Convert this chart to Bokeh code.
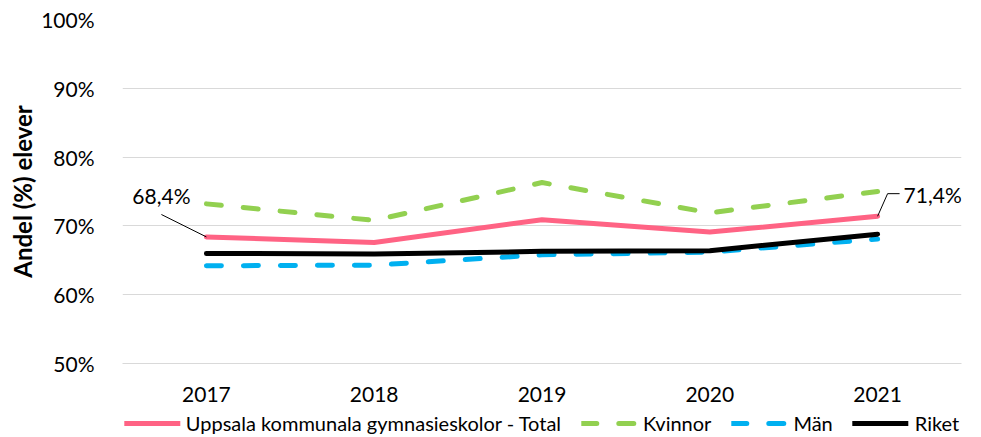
from bokeh.plotting import figure
from bokeh.layouts import column
from bokeh.models import (Range1d, FixedTicker, PrintfTickFormatter, Legend, LegendItem, Label)
from bokeh.embed import file_html
from bokeh.resources import INLINE

years = ["2017", "2018", "2019", "2020", "2021"]
total = [68.4, 67.6, 70.9, 69.1, 71.4]
kvinnor = [73.2, 70.8, 76.3, 71.9, 75.0]
man = [64.2, 64.3, 65.8, 66.2, 68.1]
riket = [66.0, 65.9, 66.3, 66.4, 68.8]
y_ticks = [50, 60, 70, 80, 90, 100]

series_names = ["Uppsala kommunala gymnasieskolor - Total", "Kvinnor", "Män", "Riket"]
series_vals = [total, kvinnor, man, riket]
colors = ["#FF6384", "#92D050", "#00B0F0", "#000000"]
dashes = ["solid", "15 22", "15 22", "solid"]

FONT = "Lato"
x = list(range(len(years)))

W, H = 981, 409
ML, MR, MT, MB = 122, 20, 19, 46
p = figure(width=W, height=H, output_backend="svg", toolbar_location=None,
           x_range=Range1d(-0.5, len(years) - 0.5), y_range=Range1d(50, 100),
           min_border_left=ML, min_border_right=MR, min_border_top=MT, min_border_bottom=MB)
p.outline_line_color = None
p.background_fill_color = "white"

p.xgrid.grid_line_color = None
p.ygrid.grid_line_color = "#d9d9d9"
p.ygrid.grid_line_width = 1
p.ygrid.ticker = FixedTicker(ticks=y_ticks)

p.xaxis.ticker = FixedTicker(ticks=x)
p.xaxis.major_label_overrides = {i: y for i, y in enumerate(years)}
p.yaxis.ticker = FixedTicker(ticks=y_ticks)
p.yaxis.formatter = PrintfTickFormatter(format="%d%%")

for ax in (p.xaxis, p.yaxis):
    ax.major_tick_line_color = None
    ax.minor_tick_line_color = None
    ax.major_label_text_font = FONT
    ax.major_label_text_font_size = "21px"
    ax.major_label_text_color = "#000000"
p.xaxis.axis_line_color = "#d9d9d9"
p.yaxis.axis_line_color = None
p.xaxis.major_label_standoff = 17
p.yaxis.major_label_standoff = 22

p.yaxis.axis_label = "Andel (%) elever"
p.yaxis.axis_label_text_font = FONT
p.yaxis.axis_label_text_font_size = "24px"
p.yaxis.axis_label_text_font_style = "bold"
p.yaxis.axis_label_text_color = "#000000"
p.yaxis.axis_label_standoff = 1

for vals, c, d in zip(series_vals, colors, dashes):
    p.line(x, vals, line_color=c, line_width=5, line_dash=d, line_join="round", line_cap="round")

# data labels with leader lines (first and last point of Total)
frame_w = W - ML - MR
frame_h = H - MT - MB
px_x = frame_w / len(years)
px_y = frame_h / 50.0
i0, i1 = 0, len(years) - 1
lead_xs = [[x[i0], x[i0] - 45 / px_x],
           [x[i1], x[i1] + 10 / px_x, x[i1] + 22 / px_x]]
lead_ys = [[total[i0], total[i0] + 22.4 / px_y],
           [total[i1], total[i1] + 22.6 / px_y, total[i1] + 22.6 / px_y]]
p.multi_line(lead_xs, lead_ys, line_color="#000000", line_width=1)

def fmt(v):
    return f"{v:.1f}".replace(".", ",") + "%"

p.add_layout(Label(x=x[i0], y=total[i0], text=fmt(total[i0]), x_offset=-45, y_offset=41,
                   text_align="center", text_baseline="middle", text_font=FONT,
                   text_font_size="21px", text_color="#000000"))
p.add_layout(Label(x=x[i1], y=total[i1], text=fmt(total[i1]), x_offset=26, y_offset=22,
                   text_align="left", text_baseline="middle", text_font=FONT,
                   text_font_size="21px", text_color="#000000"))

# legend strip below the chart (series drawn again, outside this strip's visible range)
LH = 437 - H
p2 = figure(width=W, height=LH, output_backend="svg", toolbar_location=None,
            x_range=Range1d(-0.5, len(years) - 0.5), y_range=Range1d(0, 1),
            min_border_left=ML, min_border_right=MR, min_border_top=0, min_border_bottom=0)
p2.axis.visible = False
p2.grid.visible = False
p2.outline_line_color = None
leg_r = [p2.line(x, vals, line_color=c, line_width=5, line_dash=d, line_cap="round")
         for vals, c, d in zip(series_vals, colors, dashes)]
legend = Legend(items=[LegendItem(label=n, renderers=[r]) for n, r in zip(series_names, leg_r)],
                orientation="horizontal", location="center")
legend.border_line_color = None
legend.background_fill_alpha = 0
legend.padding = 0
legend.margin = 0
legend.spacing = 20
legend.glyph_width = 56
legend.glyph_height = 20
legend.label_height = 20
legend.label_standoff = 6
legend.label_text_font = FONT
legend.label_text_font_size = "20px"
legend.label_text_color = "#000000"
p2.add_layout(legend, "center")

layout = column(p, p2, spacing=0)
open("out.html", "w").write(file_html(layout, INLINE))
